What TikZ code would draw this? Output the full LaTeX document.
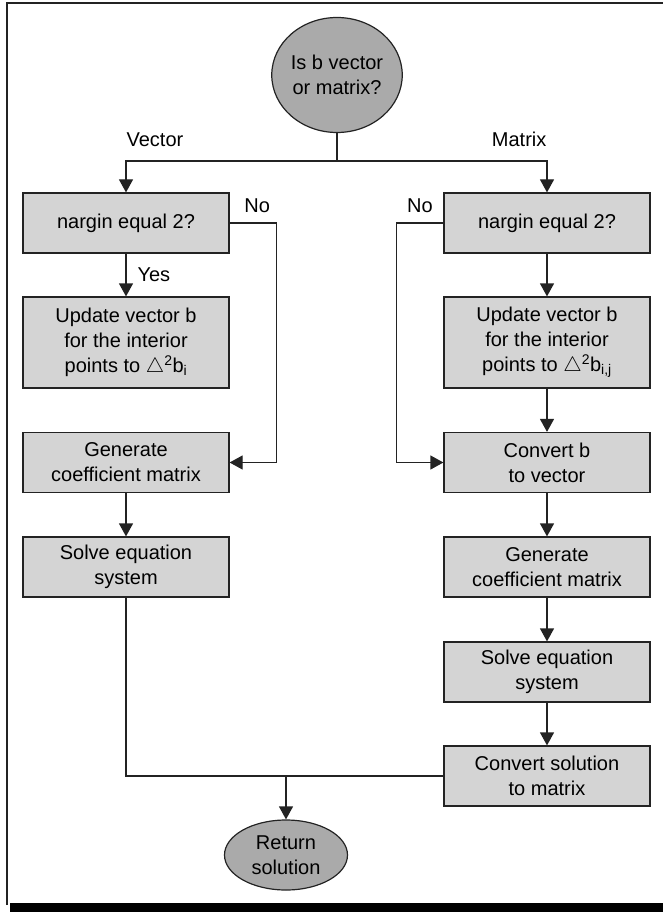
\documentclass[tikz,border=0pt]{standalone}
\usepackage{fontspec}
\setmainfont{Liberation Sans}
\usetikzlibrary{arrows.meta, shapes.geometric}
\definecolor{boxgray}{RGB}{212,212,212}
\definecolor{ovalgray}{RGB}{170,170,170}
\definecolor{edgegray}{RGB}{35,35,35}

\begin{document}
\begin{tikzpicture}[x=1pt, y=-1pt, >={Triangle[length=13pt,width=14pt]},
  every node/.style={font=\fontsize{20}{25}\selectfont},
  stepbox/.style={draw=edgegray, line width=1.2pt, fill=boxgray, align=center,
    minimum width=206pt, minimum height=60pt, inner sep=0pt},
  oval/.style={ellipse, draw=edgegray, line width=1.2pt, fill=ovalgray, align=center,
    inner sep=0pt},
  conn/.style={draw=edgegray, line width=1.2pt},
  tag/.style={inner sep=0pt}]
  \useasboundingbox (0,0) rectangle (663,912);
  \draw[edgegray, line width=1.4pt] (7,905) -- (7,3) -- (663,3);
  \fill[black] (10,903) rectangle (663,912);

  \node[oval, minimum width=116pt, minimum height=115pt] (query) at (337,75) {Is b vector\\or matrix?};

  \node[stepbox] (vcheck) at (126,223) {nargin equal 2?};
  \node[stepbox, minimum height=91pt] (vupdate) at (126,342.5)
    {Update vector b\\for the interior\\points to $\triangle$\textsuperscript{2}b\textsubscript{i}};
  \node[stepbox] (vcoef) at (126,462.5) {Generate\\coefficient matrix};
  \node[stepbox] (vsolve) at (126,567) {Solve equation\\system};

  \node[stepbox] (mcheck) at (547,223) {nargin equal 2?};
  \node[stepbox, minimum height=91pt] (mupdate) at (547,342.5)
    {Update vector b\\for the interior\\points to $\triangle$\textsuperscript{2}b\textsubscript{i,j}};
  \node[stepbox] (mconvert) at (547,462.5) {Convert b\\to vector};
  \node[stepbox] (mcoef) at (547,567) {Generate\\coefficient matrix};
  \node[stepbox] (msolve) at (547,672) {Solve equation\\system};
  \node[stepbox] (mback) at (547,776) {Convert solution\\to matrix};

  \node[oval, minimum width=123pt, minimum height=70pt] (result) at (286,855) {Return\\solution};

  \coordinate (split) at (337,161);
  \coordinate (join) at (286,776);

  \draw[conn] (query) -- (split);
  \draw[conn,->] (split) -| node[pos=0.5, tag, anchor=south west, yshift=14pt] {Vector} (vcheck);
  \draw[conn,->] (split) -| node[pos=0.5, tag, anchor=south east, yshift=14pt] {Matrix} (mcheck);

  \draw[conn,->] (vcheck) -- node[midway, tag, anchor=west, xshift=11pt] {Yes} (vupdate);
  \draw[conn,->] (vcheck.east) -- node[midway, tag, anchor=south, xshift=4pt, yshift=10pt] {No} ++(47,0) |- (vcoef.east);
  \draw[conn,->] (vcoef) -- (vsolve);
  \draw[conn] (vsolve) |- (mback);

  \draw[conn,->] (mcheck) -- (mupdate);
  \draw[conn,->] (mcheck.west) -- node[midway, tag, anchor=south, yshift=10pt] {No} ++(-47,0) |- (mconvert.west);
  \draw[conn,->] (mupdate) -- (mconvert);
  \draw[conn,->] (mconvert) -- (mcoef);
  \draw[conn,->] (mcoef) -- (msolve);
  \draw[conn,->] (msolve) -- (mback);

  \draw[conn,->] (join) -- (result);
\end{tikzpicture}
\end{document}
